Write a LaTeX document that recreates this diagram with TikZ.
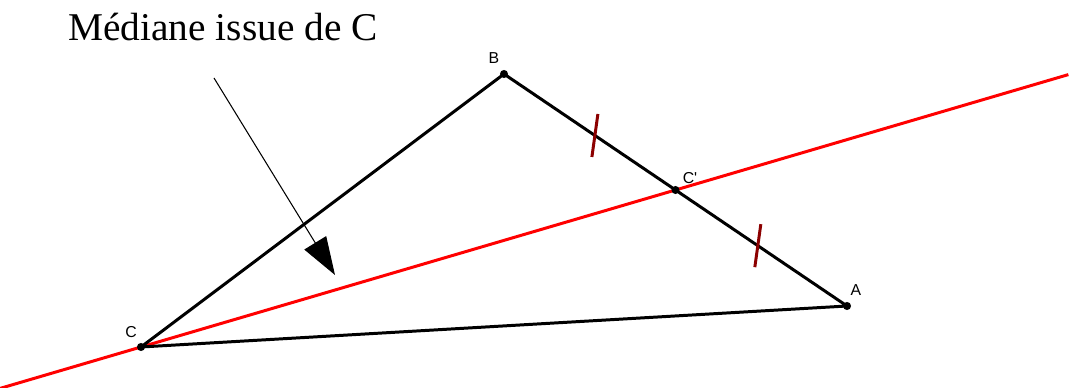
\documentclass[tikz,border=0pt]{standalone}
\usepackage{fontspec}
\setmainfont{Liberation Serif}
\setsansfont{Liberation Sans}
\usepackage{tikz}
\usetikzlibrary{calc,arrows.meta}

\begin{document}
\begin{tikzpicture}[x=0.02cm, y=-0.02cm, >=stealth]

% Parameters
\def\tick{21.5}

% Frame
\useasboundingbox (0,0) rectangle (1069,388);

% Vertices
\coordinate (B) at (504,74);
\coordinate (A) at (847,306);
\coordinate (C) at (141,347);

% Midpoint of [AB]
\coordinate (Cp) at ($(A)!0.5!(B)$);

% Ends of the median line
\coordinate (M1) at ($(C)!-0.264!(Cp)$);
\coordinate (M2) at ($(C)!1.735!(Cp)$);

% Median from C
\draw[red, line width=1.7pt]
  (M1) -- (M2);

% Triangle
\draw[line width=1.7pt, line join=round]
  (C) -- (B) -- (A) -- cycle;

% Equal marks on [AB]
\coordinate (T1) at ($(B)!0.265!(A)$);
\coordinate (T2) at ($(B)!0.74!(A)$);
\draw[red!55!black, line width=1.7pt]
  ($(T1)+(3,-\tick)$) -- ($(T1)+(-3,\tick)$);
\draw[red!55!black, line width=1.7pt]
  ($(T2)+(3,-\tick)$) -- ($(T2)+(-3,\tick)$);

% Points
\foreach \P in {A,B,C,Cp}
  \fill (\P) circle (2.3pt);

% Labels
\node[font=\sffamily\fontsize{9}{10}\selectfont] (lB) at (494,58) {B};
\node[font=\sffamily\fontsize{9}{10}\selectfont] (lCp) at (690,178) {C\textquotesingle};
\node[font=\sffamily\fontsize{9}{10}\selectfont] (lA) at (856,290) {A};
\node[font=\sffamily\fontsize{9}{10}\selectfont] (lC) at (131,332) {C};

% Caption
\node[anchor=base west, inner sep=0pt, font=\fontsize{22.4}{26}\selectfont]
  (cap) at (68,41) {Médiane issue de C};

% Arrow to the median
\coordinate (S) at (214,78);
\coordinate (E) at (335,275);
\draw[-{Triangle[length=21.5pt, width=14.5pt]}, line width=0.6pt]
  (S) -- (E);

\end{tikzpicture}
\end{document}
